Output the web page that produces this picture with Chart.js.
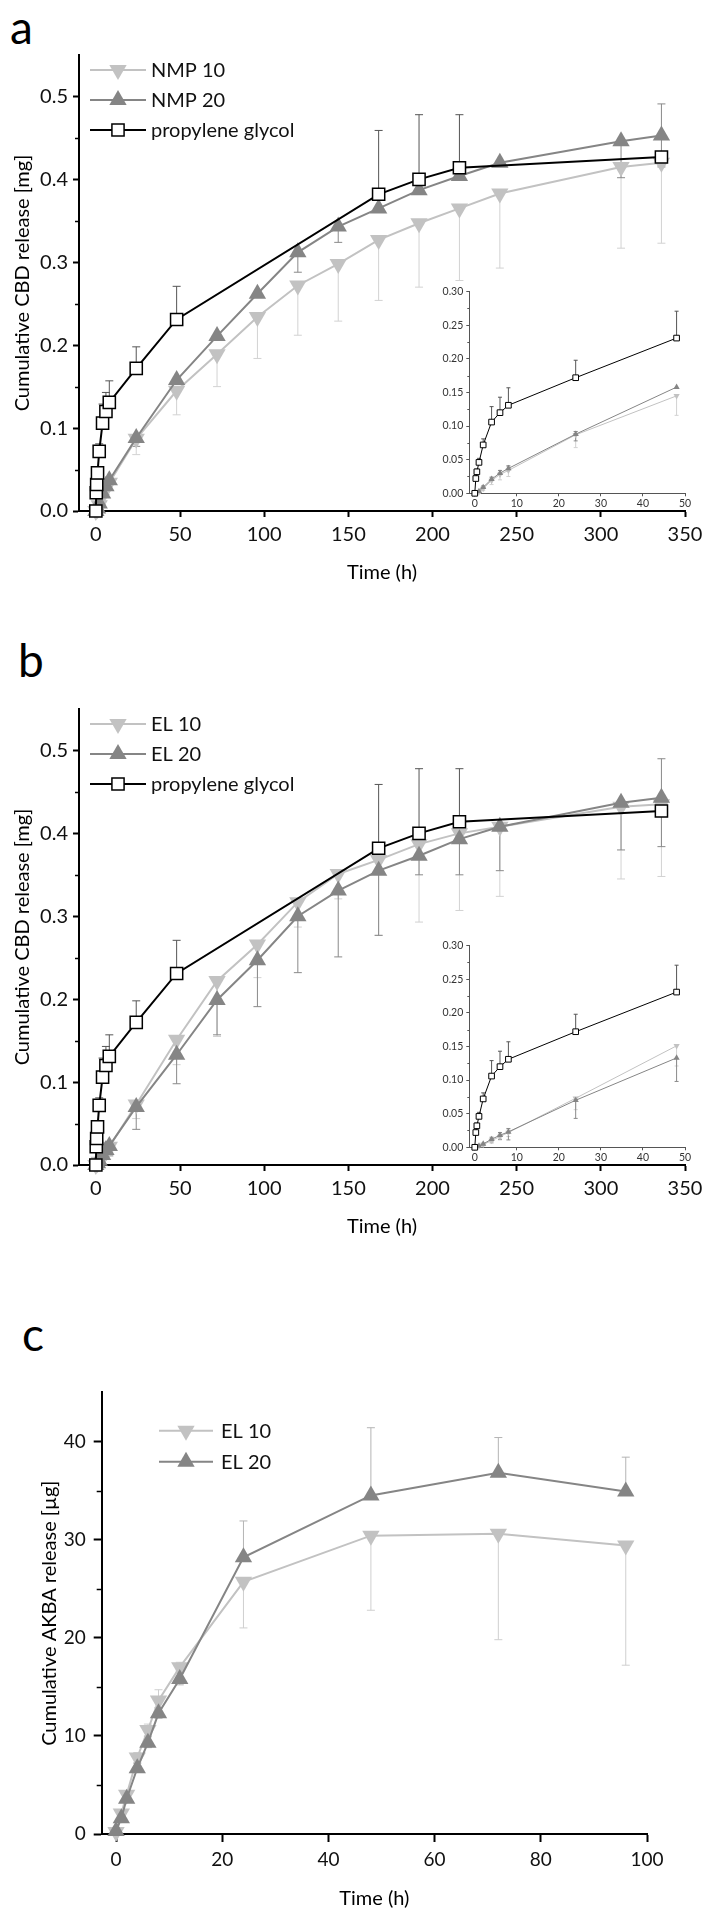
<!DOCTYPE html>
<html>
<head>
<meta charset="utf-8">
<script src="https://cdn.jsdelivr.net/npm/chart.js@4.4.1/dist/chart.umd.min.js"></script>
<style>
  html, body { margin: 0; padding: 0; background: #fff; }
  #page { position: relative; width: 714px; height: 1928px; overflow: hidden; }
  canvas { position: absolute; }
  .tag { position: absolute; font: 46px Lato, sans-serif; line-height: 46px; color: #000; }
</style>
</head>
<body>
<div id="page">
  <div class="tag" style="left:10px;top:4px">a</div>
  <div class="tag" style="left:18px;top:637px">b</div>
  <div class="tag" style="left:22px;top:1311px">c</div>
  <canvas id="mainA" width="714" height="589" style="left:0;top:0"></canvas>
  <canvas id="insetA" width="294" height="250" style="left:420px;top:270px"></canvas>
  <canvas id="mainB" width="714" height="589" style="left:0;top:654px"></canvas>
  <canvas id="insetB" width="294" height="250" style="left:420px;top:924px"></canvas>
  <canvas id="mainC" width="714" height="615" style="left:0;top:1300px"></canvas>
</div>
<script>
// ---- data ----
// propylene glycol reference, same in panels a and b
const pgTime    = [0, 0.25, 0.5, 1, 2, 4, 6, 8, 24, 48, 168, 192, 216, 336];
const pgRelease = [0, 0.022, 0.032, 0.046, 0.072, 0.106, 0.120, 0.131, 0.172, 0.231, 0.382, 0.400, 0.414, 0.427];
const pgErrUp   = [0, 0.003, 0.004, 0.006, 0.009, 0.023, 0.023, 0.026, 0.026, 0.040, 0.077, 0.078, 0.064, 0];
const pgErrDn   = [0, 0, 0, 0, 0, 0, 0, 0, 0, 0, 0, 0, 0, 0];

const cbdTime = [0, 1, 2, 4, 6, 8, 24, 48, 72, 96, 120, 144, 168, 192, 216, 240, 312, 336];

// panel a
const nmp10      = [0, 0.002, 0.007, 0.019, 0.028, 0.034, 0.087, 0.145, 0.189, 0.234, 0.272, 0.298, 0.327, 0.347, 0.365, 0.383, 0.415, 0.420];
const nmp10ErrUp = [0, 0, 0.002, 0.005, 0.006, 0.006, 0.005, 0, 0, 0, 0, 0, 0, 0, 0, 0, 0, 0];
const nmp10ErrDn = [0, 0.002, 0.003, 0.006, 0.008, 0.009, 0.019, 0.029, 0.039, 0.050, 0.060, 0.069, 0.073, 0.077, 0.087, 0.090, 0.098, 0.097];
const nmp20      = [0, 0.003, 0.009, 0.021, 0.030, 0.037, 0.088, 0.158, 0.211, 0.262, 0.312, 0.343, 0.365, 0.387, 0.404, 0.420, 0.446, 0.453];
const nmp20ErrUp = [0, 0, 0.002, 0.003, 0.004, 0.004, 0.004, 0, 0, 0, 0, 0, 0, 0, 0, 0, 0, 0.038];
const nmp20ErrDn = [0, 0, 0, 0, 0, 0, 0.010, 0, 0, 0, 0.024, 0.019, 0, 0, 0, 0, 0.044, 0.038];

// panel b
const el10      = [0, 0.002, 0.004, 0.010, 0.016, 0.022, 0.073, 0.151, 0.222, 0.266, 0.317, 0.351, 0.368, 0.387, 0.400, 0.408, 0.432, 0.435];
const el10ErrUp = [0, 0, 0.001, 0.003, 0.004, 0.004, 0, 0, 0, 0, 0, 0, 0, 0, 0, 0, 0, 0];
const el10ErrDn = [0, 0.001, 0.002, 0.004, 0.005, 0.006, 0.017, 0.030, 0.067, 0.040, 0.030, 0.030, 0.091, 0.094, 0.093, 0.084, 0.087, 0.087];
const el20      = [0, 0.002, 0.005, 0.012, 0.018, 0.023, 0.070, 0.133, 0.199, 0.247, 0.300, 0.331, 0.355, 0.373, 0.393, 0.408, 0.437, 0.443];
const el20ErrUp = [0, 0, 0.001, 0.003, 0.004, 0.005, 0, 0, 0, 0, 0, 0, 0, 0, 0, 0, 0, 0.047];
const el20ErrDn = [0, 0, 0.002, 0.004, 0.006, 0.012, 0.027, 0.035, 0.042, 0.056, 0.068, 0.080, 0.078, 0.023, 0.043, 0.053, 0.057, 0.059];

// panel c (AKBA, µg)
const akbaTime    = [0, 1, 2, 4, 6, 8, 12, 24, 48, 72, 96];
const akba10      = [0.2, 2.1, 4.0, 7.8, 10.6, 13.6, 17.0, 25.7, 30.4, 30.6, 29.4];
const akba10ErrUp = [0, 0.3, 0.4, 0.5, 0.6, 1.1, 0.5, 0, 0, 0, 0];
const akba10ErrDn = [0, 0.3, 0.4, 0.5, 0.6, 0.8, 0.6, 4.7, 7.6, 10.8, 12.2];
const akba20      = [0.3, 1.6, 3.6, 6.7, 9.3, 12.3, 15.8, 28.2, 34.5, 36.8, 34.9];
const akba20ErrUp = [0, 0.3, 0.3, 0.5, 0.6, 0.6, 0.8, 3.7, 6.9, 3.6, 3.5];
const akba20ErrDn = [0, 0.3, 0.3, 0.4, 0.5, 0.5, 0.6, 0, 0, 0, 0];

// ticks
const cbdXTicks = [0, 50, 100, 150, 200, 250, 300, 350];
const cbdYTicks = [0, 0.1, 0.2, 0.3, 0.4, 0.5];
const cbdYMinor = [0.05, 0.15, 0.25, 0.35, 0.45];
const insetXTicks = [0, 10, 20, 30, 40, 50];
const insetYTicks = [0, 0.05, 0.10, 0.15, 0.20, 0.25, 0.30];
const insetYMinor = [0.025, 0.075, 0.125, 0.175, 0.225, 0.275];
const akbaXTicks = [0, 20, 40, 60, 80, 100];
const akbaYTicks = [0, 10, 20, 30, 40];
const akbaYMinor = [5, 15, 25, 35];

const LIGHT = '#c2c2c2';
const DARK = '#858585';

// ---- plugins ----
const errorBars = {
  id: 'errorBars',
  beforeDatasetsDraw(chart, args, opts) {
    const ctx = chart.ctx;
    const yScale = chart.scales.y;
    chart.data.datasets.forEach((ds, di) => {
      if (!ds.errUp) return;
      const meta = chart.getDatasetMeta(di);
      ctx.save();
      ctx.strokeStyle = ds.errColor;
      ctx.lineWidth = opts.width;
      meta.data.forEach((pt, i) => {
        const v = ds.data[i].y;
        [[ds.errUp[i], 1], [ds.errDn[i], -1]].forEach(([e, s]) => {
          if (!e) return;
          const py = yScale.getPixelForValue(v + s * e);
          ctx.beginPath();
          ctx.moveTo(pt.x, pt.y);
          ctx.lineTo(pt.x, py);
          ctx.moveTo(pt.x - opts.cap, py);
          ctx.lineTo(pt.x + opts.cap, py);
          ctx.stroke();
        });
      });
      ctx.restore();
    });
  }
};

const minorTicks = {
  id: 'minorTicks',
  afterDraw(chart, args, opts) {
    if (!opts.values) return;
    const ctx = chart.ctx;
    const left = chart.chartArea.left;
    ctx.save();
    ctx.strokeStyle = opts.color;
    ctx.lineWidth = opts.width;
    opts.values.forEach(v => {
      const py = Math.round(chart.scales.y.getPixelForValue(v)) + 0.5;
      ctx.beginPath();
      ctx.moveTo(left, py);
      ctx.lineTo(left - opts.len, py);
      ctx.stroke();
    });
    ctx.restore();
  }
};

const lineLegend = {
  id: 'lineLegend',
  afterDraw(chart, args, opts) {
    if (!opts.rows) return;
    const ctx = chart.ctx;
    opts.rows.forEach((di, k) => {
      const ds = chart.data.datasets[di];
      const y = opts.y0 + k * opts.dy;
      ctx.save();
      ctx.strokeStyle = ds.borderColor;
      ctx.lineWidth = ds.borderWidth;
      ctx.beginPath();
      ctx.moveTo(opts.x0, y);
      ctx.lineTo(opts.x1, y);
      ctx.stroke();
      ctx.fillStyle = ds.pointBackgroundColor;
      ctx.strokeStyle = ds.pointBorderColor || ds.borderColor;
      ctx.lineWidth = ds.pointBorderWidth;
      Chart.helpers.drawPoint(ctx, {
        pointStyle: ds.pointStyle,
        rotation: ds.pointRotation || 0,
        radius: ds.pointRadius,
        borderWidth: ds.pointBorderWidth
      }, (opts.x0 + opts.x1) / 2, y);
      ctx.fillStyle = '#111';
      ctx.font = opts.font;
      ctx.textBaseline = 'middle';
      ctx.fillText(ds.label, opts.xText, y + 1);
      ctx.restore();
    });
  }
};

// ---- helpers ----
function series(label, time, vals, up, dn, style, maxT) {
  const keep = time.map((t, i) => i).filter(i => time[i] <= maxT);
  return Object.assign({
    label: label,
    data: keep.map(i => ({ x: time[i], y: vals[i] })),
    errUp: keep.map(i => up[i]),
    errDn: keep.map(i => dn[i]),
    tension: 0,
    clip: false,
    fill: false
  }, style);
}

function styles(big) {
  const r = big ? 10 : 3.6;
  return {
    light: { borderColor: LIGHT, borderWidth: big ? 2 : 1, pointStyle: 'triangle', pointRotation: 180,
             pointRadius: r, pointBackgroundColor: LIGHT, pointBorderWidth: 0, errColor: '#d2d2d2', order: 3 },
    dark:  { borderColor: DARK, borderWidth: big ? 2 : 1, pointStyle: 'triangle', pointRotation: 0,
             pointRadius: r, pointBackgroundColor: DARK, pointBorderWidth: 0, errColor: '#8a8a8a', order: 2 },
    pg:    { borderColor: '#000', borderWidth: big ? 2 : 1, pointStyle: 'rect',
             pointRadius: big ? 8.6 : 4, pointBackgroundColor: '#fff', pointBorderColor: '#000',
             pointBorderWidth: big ? 1.5 : 1, errColor: '#555', order: 1 }
  };
}

function axes(o) {
  const tickFont = { family: 'Lato', size: o.tickSize };
  const titleFont = { family: 'Lato', size: o.titleSize || 20 };
  const grid = { drawOnChartArea: false, drawTicks: true, tickLength: o.tick, tickColor: o.axisColor, tickWidth: o.axisW };
  return {
    x: {
      type: 'linear', min: o.xMin, max: o.xMax,
      afterBuildTicks: s => { s.ticks = o.xTicks.map(v => ({ value: v })); },
      afterFit: s => { s.height = o.xH; },
      border: { display: true, color: o.axisColor, width: o.axisW },
      grid: grid,
      ticks: { color: o.labelColor, font: tickFont, padding: o.xPad, maxRotation: 0, autoSkip: false,
               callback: v => String(v) },
      title: { display: !!o.xTitle, text: o.xTitle, color: '#000', font: titleFont, padding: { top: 4, bottom: 4 } }
    },
    y: {
      type: 'linear', min: o.yMin, max: o.yMax,
      afterBuildTicks: s => { s.ticks = o.yTicks.map(v => ({ value: v })); },
      afterFit: s => { s.width = o.yW; },
      border: { display: true, color: o.axisColor, width: o.axisW },
      grid: grid,
      ticks: { color: o.labelColor, font: tickFont, padding: o.yPad, autoSkip: false,
               callback: v => Number(v).toFixed(o.yDigits) },
      title: { display: !!o.yTitle, text: o.yTitle, color: '#000', font: titleFont,
               padding: { top: o.yTitlePad || 4, bottom: 4 } }
    }
  };
}

function makeChart(id, datasets, scaleOpts, pad, extras) {
  return new Chart(document.getElementById(id), {
    type: 'line',
    data: { datasets: datasets },
    options: {
      responsive: false,
      animation: false,
      events: [],
      layout: { padding: pad },
      scales: axes(scaleOpts),
      plugins: Object.assign({ legend: { display: false }, tooltip: { enabled: false } }, extras)
    },
    plugins: [errorBars, minorTicks, lineLegend]
  });
}

// ---- main CBD panels (a, b) ----
function cbdPanel(id, names, s10, s20) {
  const st = styles(true);
  const ds = [
    series(names[0], cbdTime, s10[0], s10[1], s10[2], st.light, 999),
    series(names[1], cbdTime, s20[0], s20[1], s20[2], st.dark, 999),
    series('propylene glycol', pgTime, pgRelease, pgErrUp, pgErrDn, st.pg, 999)
  ];
  makeChart(id, ds, {
    xMin: -10, xMax: 350, xTicks: cbdXTicks, xH: 78, xPad: 6, xTitle: 'Time (h)',
    yMin: 0, yMax: 0.55, yTicks: cbdYTicks, yW: 79, yPad: 5, yDigits: 1,
    yTitle: 'Cumulative CBD release [mg]', yTitlePad: 11,
    tick: 6, axisColor: '#000', axisW: 2, labelColor: '#111', tickSize: 20
  }, { left: 0, right: 29, top: 55, bottom: 0 }, {
    errorBars: { width: 1, cap: 4 },
    minorTicks: { values: cbdYMinor, len: 4, width: 1.5, color: '#000' },
    lineLegend: { rows: [0, 1, 2], x0: 90, x1: 146, xText: 151, y0: 70, dy: 30, font: '20px Lato' }
  });
}

function insetPanel(id, names, s10, s20) {
  const st = styles(false);
  const ds = [
    series(names[0], cbdTime, s10[0], s10[1], s10[2], st.light, 50),
    series(names[1], cbdTime, s20[0], s20[1], s20[2], st.dark, 50),
    series('propylene glycol', pgTime, pgRelease, pgErrUp, pgErrDn, st.pg, 50)
  ];
  makeChart(id, ds, {
    xMin: -1.3, xMax: 50, xTicks: insetXTicks, xH: 26.7, xPad: 1,
    yMin: 0, yMax: 0.30, yTicks: insetYTicks, yW: 49.3, yPad: 3, yDigits: 2,
    tick: 3, axisColor: '#555', axisW: 1, labelColor: '#333', tickSize: 10.5
  }, { left: 0, right: 29, top: 21.7, bottom: 0 }, {
    errorBars: { width: 1, cap: 2 },
    minorTicks: { values: insetYMinor, len: 2, width: 1, color: '#555' }
  });
}

cbdPanel('mainA', ['NMP 10', 'NMP 20'], [nmp10, nmp10ErrUp, nmp10ErrDn], [nmp20, nmp20ErrUp, nmp20ErrDn]);
insetPanel('insetA', ['NMP 10', 'NMP 20'], [nmp10, nmp10ErrUp, nmp10ErrDn], [nmp20, nmp20ErrUp, nmp20ErrDn]);
cbdPanel('mainB', ['EL 10', 'EL 20'], [el10, el10ErrUp, el10ErrDn], [el20, el20ErrUp, el20ErrDn]);
insetPanel('insetB', ['EL 10', 'EL 20'], [el10, el10ErrUp, el10ErrDn], [el20, el20ErrUp, el20ErrDn]);

// ---- panel c ----
(function () {
  const st = styles(true);
  const lightC = Object.assign({}, st.light, { errColor: '#cfcfcf' });
  const darkC = Object.assign({}, st.dark, { errColor: '#b4b4b4' });
  const ds = [
    series('EL 10', akbaTime, akba10, akba10ErrUp, akba10ErrDn, lightC, 999),
    series('EL 20', akbaTime, akba20, akba20ErrUp, akba20ErrDn, darkC, 999)
  ];
  makeChart('mainC', ds, {
    xMin: -2.7, xMax: 100, xTicks: akbaXTicks, xH: 81, xPad: 6, xTitle: 'Time (h)',
    yMin: 0, yMax: 45, yTicks: akbaYTicks, yW: 101.7, yPad: 8, yDigits: 0,
    yTitle: 'Cumulative AKBA release [µg]', yTitlePad: 38,
    tick: 8, axisColor: '#000', axisW: 2, labelColor: '#111', tickSize: 19
  }, { left: 0, right: 67, top: 92.4, bottom: 0 }, {
    errorBars: { width: 1, cap: 4 },
    minorTicks: { values: akbaYMinor, len: 5, width: 1.5, color: '#000' },
    lineLegend: { rows: [0, 1], x0: 159, x1: 213, xText: 221, y0: 130.8, dy: 31, font: '20px Lato' }
  });
})();
</script>
</body>
</html>
